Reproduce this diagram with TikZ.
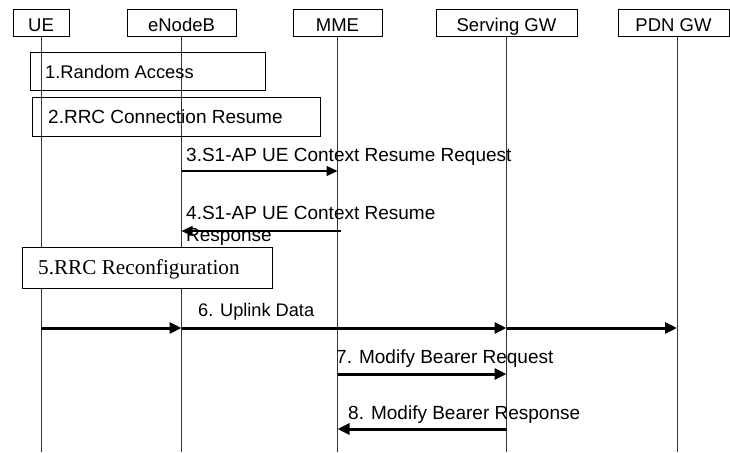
\documentclass[tikz,border=0pt]{standalone}
\usepackage{fontspec}
\setmainfont{Liberation Sans}
\newfontfamily\timesf{Liberation Serif}
\usetikzlibrary{arrows.meta}
\begin{document}
\begin{tikzpicture}[x=1pt,y=-1pt,
  ent/.style={draw,line width=1pt,minimum height=27pt,inner sep=0pt,text height=16pt,text depth=0pt,font=\fontsize{18.5}{22}\selectfont},
  life/.style={line width=0.9pt,black!80},
  stepbox/.style={draw,line width=1.2pt,inner sep=0pt,anchor=north west},
  lbl/.style={anchor=base west,inner sep=0pt,font=\fontsize{19}{22}\selectfont},
  thinmsg/.style={line width=1.3pt,-{Triangle[length=11pt,width=10pt]}},
  thickmsg/.style={line width=3pt,-{Triangle[length=12pt,width=11pt]}}]
\useasboundingbox (0,0) rectangle (730,452);
% entities
\node[ent,minimum width=56pt] (ue) at (41,23.5) {UE};
\node[ent,minimum width=109pt] (enb) at (181.5,23.5) {eNodeB};
\node[ent,minimum width=89pt] (mme) at (337.5,23.5) {MME};
\node[ent,minimum width=141pt] (sgw) at (506.5,23.5) {Serving GW};
\node[ent,minimum width=111pt] (pgw) at (673.5,23.5) {PDN GW};
\coordinate (pgwx) at (677,37);
\coordinate (bot) at (0,452);
% lifelines
\draw[life] (ue.south) -- (ue.south |- bot);
\draw[life] (enb.south) -- (enb.south |- bot);
\draw[life] (mme.south) -- (mme.south |- bot);
\draw[life] (sgw.south) -- (sgw.south |- bot);
\draw[life] (pgwx) -- (pgwx |- bot);
% step boxes
\node[stepbox,minimum width=235pt,minimum height=38pt] (s1) at (30,52) {};
\node[lbl,font=\fontsize{18.3}{22}\selectfont] (t1) at (45,78) {1.Random Access};
\node[stepbox,minimum width=288pt,minimum height=39pt] (s2) at (32,97) {};
\node[lbl] (t2) at (48,123) {2.RRC Connection Resume};
\node[stepbox,fill=white,minimum width=250pt,minimum height=41pt] (s5) at (22,247) {};
\node[lbl,font=\timesf\fontsize{21.2}{24}\selectfont] (t5) at (38,274) {5.RRC Reconfiguration};
% messages
\coordinate (y3) at (0,171);
\coordinate (y4) at (0,231);
\coordinate (y6) at (0,328);
\coordinate (y7) at (0,374);
\coordinate (y8) at (0,429);
\draw[thinmsg] (enb |- y3) -- (mme |- y3);
\node[lbl] (l3) at (186,161) {3.S1-AP UE Context Resume Request};
\draw[thinmsg] ([xshift=3pt]mme |- y4) -- (enb |- y4);
\node[lbl] (l4a) at (186,219) {4.S1-AP UE Context Resume};
\node[lbl] (l4b) at (186,241) {Response};
\draw[thickmsg] (ue |- y6) -- (enb |- y6);
\draw[thickmsg] (enb |- y6) -- (sgw |- y6);
\draw[thickmsg] (sgw |- y6) -- (pgwx |- y6);
\node[lbl,font=\fontsize{18.2}{22}\selectfont] (l6) at (198,316) {6. Uplink Data};
\draw[thickmsg] (mme |- y7) -- (sgw |- y7);
\node[lbl] (l7) at (336,363) {7. Modify Bearer Request};
\draw[thickmsg] (sgw |- y8) -- (mme |- y8);
\node[lbl] (l8) at (348,419) {8. Modify Bearer Response};
\end{tikzpicture}
\end{document}
